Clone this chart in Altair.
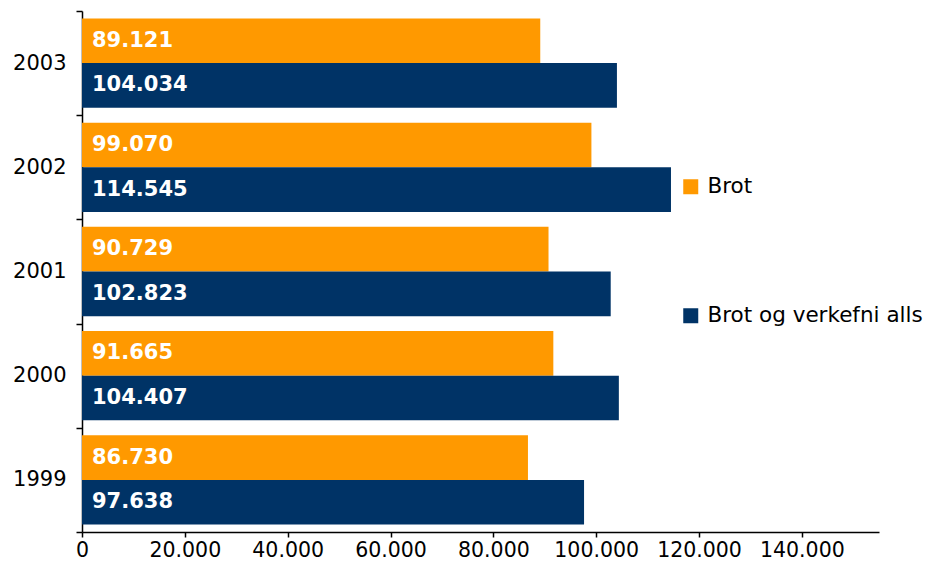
import altair as alt
import pandas as pd

years = ["1999", "2000", "2001", "2002", "2003"]
brot = [86730, 91665, 90729, 99070, 89121]
alls = [97638, 104407, 102823, 114545, 104034]
series = ["Brot", "Brot og verkefni alls"]
colors = ["#FF9900", "#003366"]
x_ticks = [0, 20000, 40000, 60000, 80000, 100000, 120000, 140000]

rows = []
for y, b, a in zip(years, brot, alls):
    rows.append({"year": y, "series": series[0], "value": b})
    rows.append({"year": y, "series": series[1], "value": a})
df = pd.DataFrame(rows)
df["label"] = df["value"].map(lambda v: f"{v:,}".replace(",", "."))

font = "DejaVu Sans"

y_enc = alt.Y(
    "year:N",
    sort=years[::-1],
    scale=alt.Scale(paddingInner=0, paddingOuter=0),
    axis=alt.Axis(
        title=None, tickBand="extent", labelFont=font, labelFontSize=21,
        labelColor="black", domainColor="black", tickColor="black",
        tickSize=6, labelPadding=10, domainWidth=1.5, tickWidth=1.5,
    ),
)
yoff = alt.YOffset(
    "series:N", sort=series,
    scale=alt.Scale(paddingOuter=0.167, paddingInner=0),
)
x_enc = alt.X(
    "value:Q",
    scale=alt.Scale(domain=[0, 155000], nice=False),
    axis=alt.Axis(
        title=None, values=x_ticks, grid=False, labelFont=font, labelFontSize=20.5,
        labelColor="black", domainColor="black", tickColor="black",
        tickSize=5, labelPadding=3, domainWidth=1.5, tickWidth=1.5,
        labelExpr="replace(format(datum.value, ','), ',', '.')",
        labelFlush=False, labelOverlap=False,
    ),
)

base = alt.Chart(df)
bars = base.mark_bar().encode(
    x=x_enc,
    y=y_enc,
    yOffset=yoff,
    color=alt.Color(
        "series:N",
        scale=alt.Scale(domain=series, range=colors),
        legend=alt.Legend(
            title=None, orient="none", legendX=598, legendY=165,
            symbolType="square", symbolSize=225, symbolStrokeWidth=0,
            labelFont=font, labelFontSize=21.5, labelColor="black",
            rowPadding=106, labelOffset=6, direction="vertical", padding=0,
            labelLimit=0,
        ),
    ),
)
labels = base.mark_text(
    align="left", baseline="middle", dx=10, font=font, fontSize=21,
    fontWeight="bold", color="white",
).encode(
    x=alt.value(0),
    y=y_enc,
    yOffset=yoff,
    text="label:N",
)

chart = (
    alt.layer(bars, labels)
    .properties(
        width=797, height=521,
        padding={"left": 74, "top": 3, "right": 51, "bottom": 34},
        autosize=alt.AutoSizeParams(type="none"),
        background="white",
    )
    .configure_view(stroke=None)
)
chart.save("out.html", embed_options={"renderer": "svg", "actions": False})
